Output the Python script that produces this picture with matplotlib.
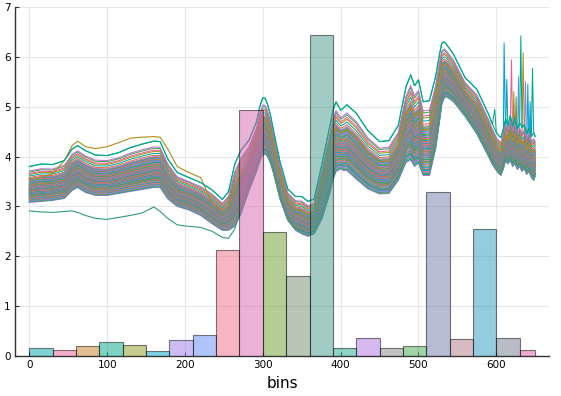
import numpy as np
import matplotlib
matplotlib.use("Agg")
import matplotlib.pyplot as plt

# ---- spectra ----
bins = [0, 15, 30, 45, 55, 62, 72, 85, 100, 115, 130, 145, 160, 168, 178, 190, 205, 220,
        235, 248, 256, 264, 272, 282, 292, 296, 300, 303, 306, 310, 314, 322, 332, 342, 350,
        358, 366, 376, 386, 390, 394, 400, 404, 408, 420, 435, 450, 462, 474, 484, 490, 495,
        500, 506, 514, 522, 527, 530, 533, 536, 545, 560, 575, 590, 595, 600, 603, 606, 609,
        612, 615, 618, 621, 624, 627, 630, 633, 636, 639, 642, 645, 648, 650]

top_curve = [3.80, 3.85, 3.84, 3.92, 4.15, 4.22, 4.12, 4.03, 4.02, 4.08, 4.18, 4.25, 4.31, 4.30,
             3.95, 3.68, 3.58, 3.48, 3.33, 3.14, 3.30, 3.85, 4.13, 4.32, 4.70, 5.00, 5.18, 5.17,
             5.05, 4.82, 4.50, 3.90, 3.35, 3.20, 3.20, 3.10, 3.15, 3.85, 4.60, 4.92, 5.10, 4.93,
             4.98, 5.04, 4.87, 4.52, 4.30, 4.32, 4.62, 5.40, 5.64, 5.42, 5.54, 5.10, 5.12, 5.60,
             6.05, 6.28, 6.30, 6.25, 6.05, 5.58, 5.35, 4.85, 4.65, 4.48, 4.42, 4.38, 4.55, 4.75,
             4.62, 4.82, 4.60, 4.78, 4.55, 4.68, 4.58, 4.64, 4.45, 4.58, 4.40, 4.48, 4.40]

bottom_curve = [3.08, 3.10, 3.12, 3.16, 3.32, 3.38, 3.28, 3.22, 3.22, 3.26, 3.30, 3.34, 3.38, 3.38,
                3.15, 3.00, 2.93, 2.82, 2.65, 2.52, 2.52, 2.60, 2.85, 3.30, 3.70, 3.90, 4.03, 4.05,
                4.00, 3.86, 3.65, 3.15, 2.72, 2.52, 2.45, 2.40, 2.45, 2.75, 3.25, 3.52, 3.70, 3.75,
                3.72, 3.72, 3.55, 3.35, 3.25, 3.26, 3.52, 3.88, 3.93, 3.80, 3.87, 3.62, 3.62, 4.15,
                4.70, 5.05, 5.17, 5.20, 5.10, 4.80, 4.45, 4.00, 3.84, 3.72, 3.66, 3.62, 3.75, 3.92,
                3.85, 3.92, 3.80, 3.86, 3.74, 3.80, 3.70, 3.76, 3.64, 3.70, 3.58, 3.52, 3.60]

# value of each spectrum at bin 0
levels = [3.80, 3.71, 3.69, 3.66, 3.64, 3.61, 3.58, 3.56, 3.55, 3.54, 3.53, 3.52, 3.51, 3.50,
          3.49, 3.48, 3.47, 3.46, 3.45, 3.44, 3.43, 3.42, 3.41, 3.40, 3.395, 3.39, 3.38, 3.375,
          3.37, 3.36, 3.355, 3.35, 3.34, 3.335, 3.33, 3.32, 3.315, 3.31, 3.30, 3.295, 3.29, 3.28,
          3.275, 3.27, 3.26, 3.255, 3.25, 3.24, 3.235, 3.23, 3.22, 3.215, 3.21, 3.20, 3.19, 3.18,
          3.17, 3.16, 3.15, 3.14, 3.13, 3.12, 3.11, 3.10, 3.09, 3.08]

# two spectra that leave the band on the left side
olive_head = [3.55, 3.58, 3.66, 3.92, 4.22, 4.31, 4.20, 4.16, 4.20, 4.28, 4.37, 4.39, 4.40, 4.39,
              4.15, 3.80, 3.68, 3.58]
low_head = [2.91, 2.89, 2.88, 2.90, 2.91, 2.88, 2.82, 2.76, 2.74, 2.78, 2.82, 2.87, 2.99, 2.90,
            2.76, 2.63, 2.60, 2.58, 2.50, 2.38, 2.36, 2.55]

# noisy spikes at the long-wavelength end: (spectrum, bin, value)
spikes = [(0, 598, 4.95), (9, 610, 6.28), (5, 613.5, 5.55), (3, 619.5, 5.94), (20, 622.5, 5.30),
          (15, 625.5, 5.20), (30, 628.5, 5.60), (0, 631.5, 6.42), (4, 634.5, 6.08),
          (7, 637.5, 5.50), (12, 640.5, 5.45), (0, 646.5, 5.77), (25, 643.5, 5.10)]

# ---- histogram ----
bar_edges = [0, 30, 60, 90, 120, 150, 180, 210, 240, 270, 300, 330, 360, 390, 420, 450, 480,
             510, 540, 570, 600, 630, 650]
bar_heights = [0.17, 0.12, 0.21, 0.29, 0.23, 0.10, 0.32, 0.43, 2.12, 4.93, 2.49, 1.60, 6.43,
               0.17, 0.36, 0.17, 0.21, 3.28, 0.34, 2.55, 0.37, 0.12]
bar_colors = ['#00A9AD', '#ED5E93', '#C68125', '#00A98D', '#8E971D', '#00A9CD', '#9B7FE9',
              '#618DF6', '#F16C85', '#D966B1', '#6D9D2D', '#718D6D', '#479989', '#1DAD89',
              '#AD75E1', '#898985', '#45A955', '#717DAD', '#B17D85', '#2D99C1', '#757D89',
              '#E155A9']

palette = ['#00A98D', '#C371D2', '#3EA44E', '#ED5E93', '#AC8E18', '#00A9AD', '#E36F47',
           '#9B7FE9', '#8E971D', '#009AFA', '#F16C85', '#C68225', '#00A9CD', '#D966B1',
           '#618DF6', '#6D9D2D']

x = np.array(bins, dtype=float)
top = np.array(top_curve)
bot = np.array(bottom_curve)

fig = plt.figure(figsize=(5.61, 3.96), dpi=100)
ax = fig.add_axes([15 / 561, 40 / 396, 534 / 561, 349 / 396])


def band_line(frac):
    return bot + frac * (top - bot)


# bulk of the spectra, bottom ones drawn last
for i in range(len(levels) - 1, -1, -1):
    frac = (levels[i] - bot[0]) / (top[0] - bot[0])
    xs = list(x)
    ys = list(band_line(frac))
    for ci, sb, sv in spikes:
        if ci == i:
            j = int(np.searchsorted(xs, sb))
            xs.insert(j, sb)
            ys.insert(j, sv)
    ax.plot(xs, ys, color=palette[i % len(palette)], lw=0.75, zorder=2)

# special spectra
olive = band_line(0.62)
olive[:len(olive_head)] = olive_head
ax.plot(x, olive, color='#AC8E18', lw=0.8, zorder=2)

low = band_line(0.08)
low[:len(low_head)] = low_head
ax.plot(x, low, color='#2F9E77', lw=0.8, zorder=2)

# top spectrum on top
ax.plot(x, band_line(1.0), color='#00A98D', lw=0.8, zorder=2.5)

# histogram bars over the lines
lefts = bar_edges[:-1]
widths = [bar_edges[k + 1] - bar_edges[k] for k in range(len(lefts))]
ax.bar(lefts, bar_heights, width=widths, align='edge', color=bar_colors, alpha=0.5,
       edgecolor='black', linewidth=0.8, zorder=3)

ax.set_xlim(-18.4, 667.7)
ax.set_ylim(0, 7)
ax.set_xticks([0, 100, 200, 300, 400, 500, 600])
ax.set_yticks(range(0, 8))
ax.grid(True, color='#e6e6e6', lw=0.8, zorder=0)
ax.set_axisbelow(True)
for side in ['top', 'right']:
    ax.spines[side].set_visible(False)
for side in ['left', 'bottom']:
    ax.spines[side].set_color('#333333')
    ax.spines[side].set_linewidth(1.0)
ax.tick_params(direction='in', length=3, width=0.8, labelsize=7.5, pad=3, color='#333333')
ax.set_xlabel('bins', fontsize=11, labelpad=4)

fig.savefig('out.png', dpi=100)
